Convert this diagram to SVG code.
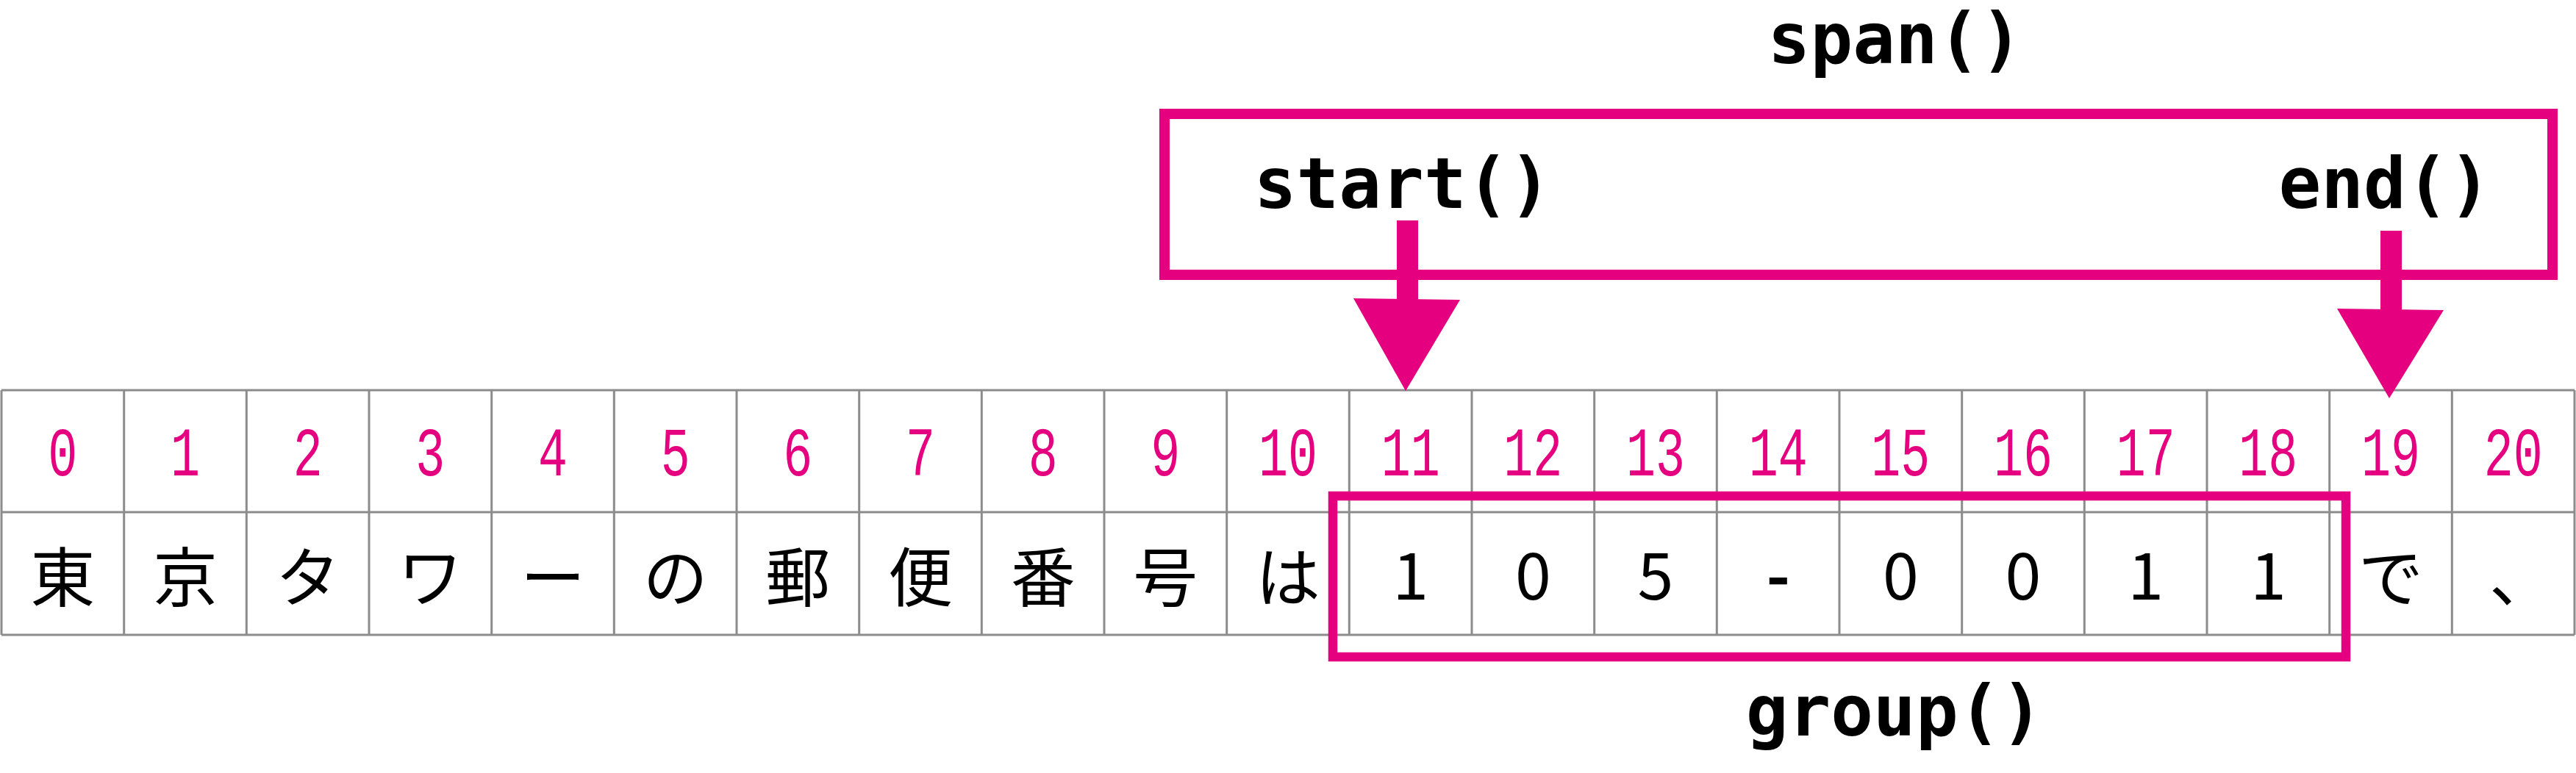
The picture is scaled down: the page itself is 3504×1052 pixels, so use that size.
<svg xmlns="http://www.w3.org/2000/svg" width="3504" height="1052" viewBox="0 0 3504 1052">
<style>
.grid{fill:none;stroke:#8c8c8c;stroke-width:3}
.idx{font-family:"Liberation Mono",monospace;font-size:94px;fill:#e4007f;text-anchor:middle}
.ch{font-family:"Noto Sans CJK JP","Noto Sans",sans-serif;font-size:88px;fill:#000;text-anchor:middle}
.code{font-family:"DejaVu Sans Mono",monospace;font-weight:bold;font-size:96px;fill:#000;text-anchor:middle}
.box{fill:none;stroke:#e4007f}
.arr{fill:#e4007f;stroke:none}
</style>
<rect width="3504" height="1052" fill="#fff"/>
<g id="table">
<path class="grid" d="M2,531H3502M2,697H3502M2,864H3502M2,531V864M168.7,531V864M335.3,531V864M502,531V864M668.7,531V864M835.3,531V864M1002,531V864M1168.7,531V864M1335.3,531V864M1502,531V864M1668.7,531V864M1835.3,531V864M2002,531V864M2168.7,531V864M2335.3,531V864M2502,531V864M2668.7,531V864M2835.3,531V864M3002,531V864M3168.7,531V864M3335.3,531V864M3502,531V864"/>
<g id="indices">
<text class="idx" x="85.3" y="647" textLength="40" lengthAdjust="spacingAndGlyphs">0</text>
<text class="idx" x="252" y="647" textLength="40" lengthAdjust="spacingAndGlyphs">1</text>
<text class="idx" x="418.7" y="647" textLength="40" lengthAdjust="spacingAndGlyphs">2</text>
<text class="idx" x="585.3" y="647" textLength="40" lengthAdjust="spacingAndGlyphs">3</text>
<text class="idx" x="752" y="647" textLength="40" lengthAdjust="spacingAndGlyphs">4</text>
<text class="idx" x="918.7" y="647" textLength="40" lengthAdjust="spacingAndGlyphs">5</text>
<text class="idx" x="1085.3" y="647" textLength="40" lengthAdjust="spacingAndGlyphs">6</text>
<text class="idx" x="1252" y="647" textLength="40" lengthAdjust="spacingAndGlyphs">7</text>
<text class="idx" x="1418.7" y="647" textLength="40" lengthAdjust="spacingAndGlyphs">8</text>
<text class="idx" x="1585.3" y="647" textLength="40" lengthAdjust="spacingAndGlyphs">9</text>
<text class="idx" x="1752" y="647" textLength="80" lengthAdjust="spacingAndGlyphs">10</text>
<text class="idx" x="1918.7" y="647" textLength="80" lengthAdjust="spacingAndGlyphs">11</text>
<text class="idx" x="2085.3" y="647" textLength="80" lengthAdjust="spacingAndGlyphs">12</text>
<text class="idx" x="2252" y="647" textLength="80" lengthAdjust="spacingAndGlyphs">13</text>
<text class="idx" x="2418.7" y="647" textLength="80" lengthAdjust="spacingAndGlyphs">14</text>
<text class="idx" x="2585.3" y="647" textLength="80" lengthAdjust="spacingAndGlyphs">15</text>
<text class="idx" x="2752" y="647" textLength="80" lengthAdjust="spacingAndGlyphs">16</text>
<text class="idx" x="2918.7" y="647" textLength="80" lengthAdjust="spacingAndGlyphs">17</text>
<text class="idx" x="3085.3" y="647" textLength="80" lengthAdjust="spacingAndGlyphs">18</text>
<text class="idx" x="3252" y="647" textLength="80" lengthAdjust="spacingAndGlyphs">19</text>
<text class="idx" x="3418.7" y="647" textLength="80" lengthAdjust="spacingAndGlyphs">20</text>
</g>
<g id="chars">
<text class="ch" x="85.3" y="818">東</text>
<text class="ch" x="252" y="818">京</text>
<text class="ch" x="418.7" y="818">タ</text>
<text class="ch" x="585.3" y="818">ワ</text>
<text class="ch" x="752" y="818">ー</text>
<text class="ch" x="918.7" y="818">の</text>
<text class="ch" x="1085.3" y="818">郵</text>
<text class="ch" x="1252" y="818">便</text>
<text class="ch" x="1418.7" y="818">番</text>
<text class="ch" x="1585.3" y="818">号</text>
<text class="ch" x="1752" y="818">は</text>
<text class="ch" x="1918.7" y="816">1</text>
<text class="ch" x="2085.3" y="816">0</text>
<text class="ch" x="2252" y="816">5</text>
<text class="ch" x="2418.7" y="816" font-weight="bold">-</text>
<text class="ch" x="2585.3" y="816">0</text>
<text class="ch" x="2752" y="816">0</text>
<text class="ch" x="2918.7" y="816">1</text>
<text class="ch" x="3085.3" y="816">1</text>
<text class="ch" x="3252" y="818">で</text>
<text class="ch" x="3430" y="818">、</text>
</g>
</g>
<g id="span">
<rect class="box" x="1584" y="155" width="1888" height="219" stroke-width="14"/>
<text class="code" x="2578" y="86">span()</text>
<text class="code" x="1908" y="283">start()</text>
<text class="code" x="3244" y="283">end()</text>
</g>
<g id="group">
<rect class="box" x="1813" y="675" width="1378" height="219" stroke-width="12.5"/>
<text class="code" x="2577" y="1001">group()</text>
</g>
<g id="connectors">
<rect class="arr" x="1900" y="300" width="29" height="110"/>
<polygon class="arr" points="1841,406 1986,408 1912,532"/>
<rect class="arr" x="3238" y="314" width="29" height="110"/>
<polygon class="arr" points="3179,420 3324,422 3250,542"/>
</g>
</svg>
